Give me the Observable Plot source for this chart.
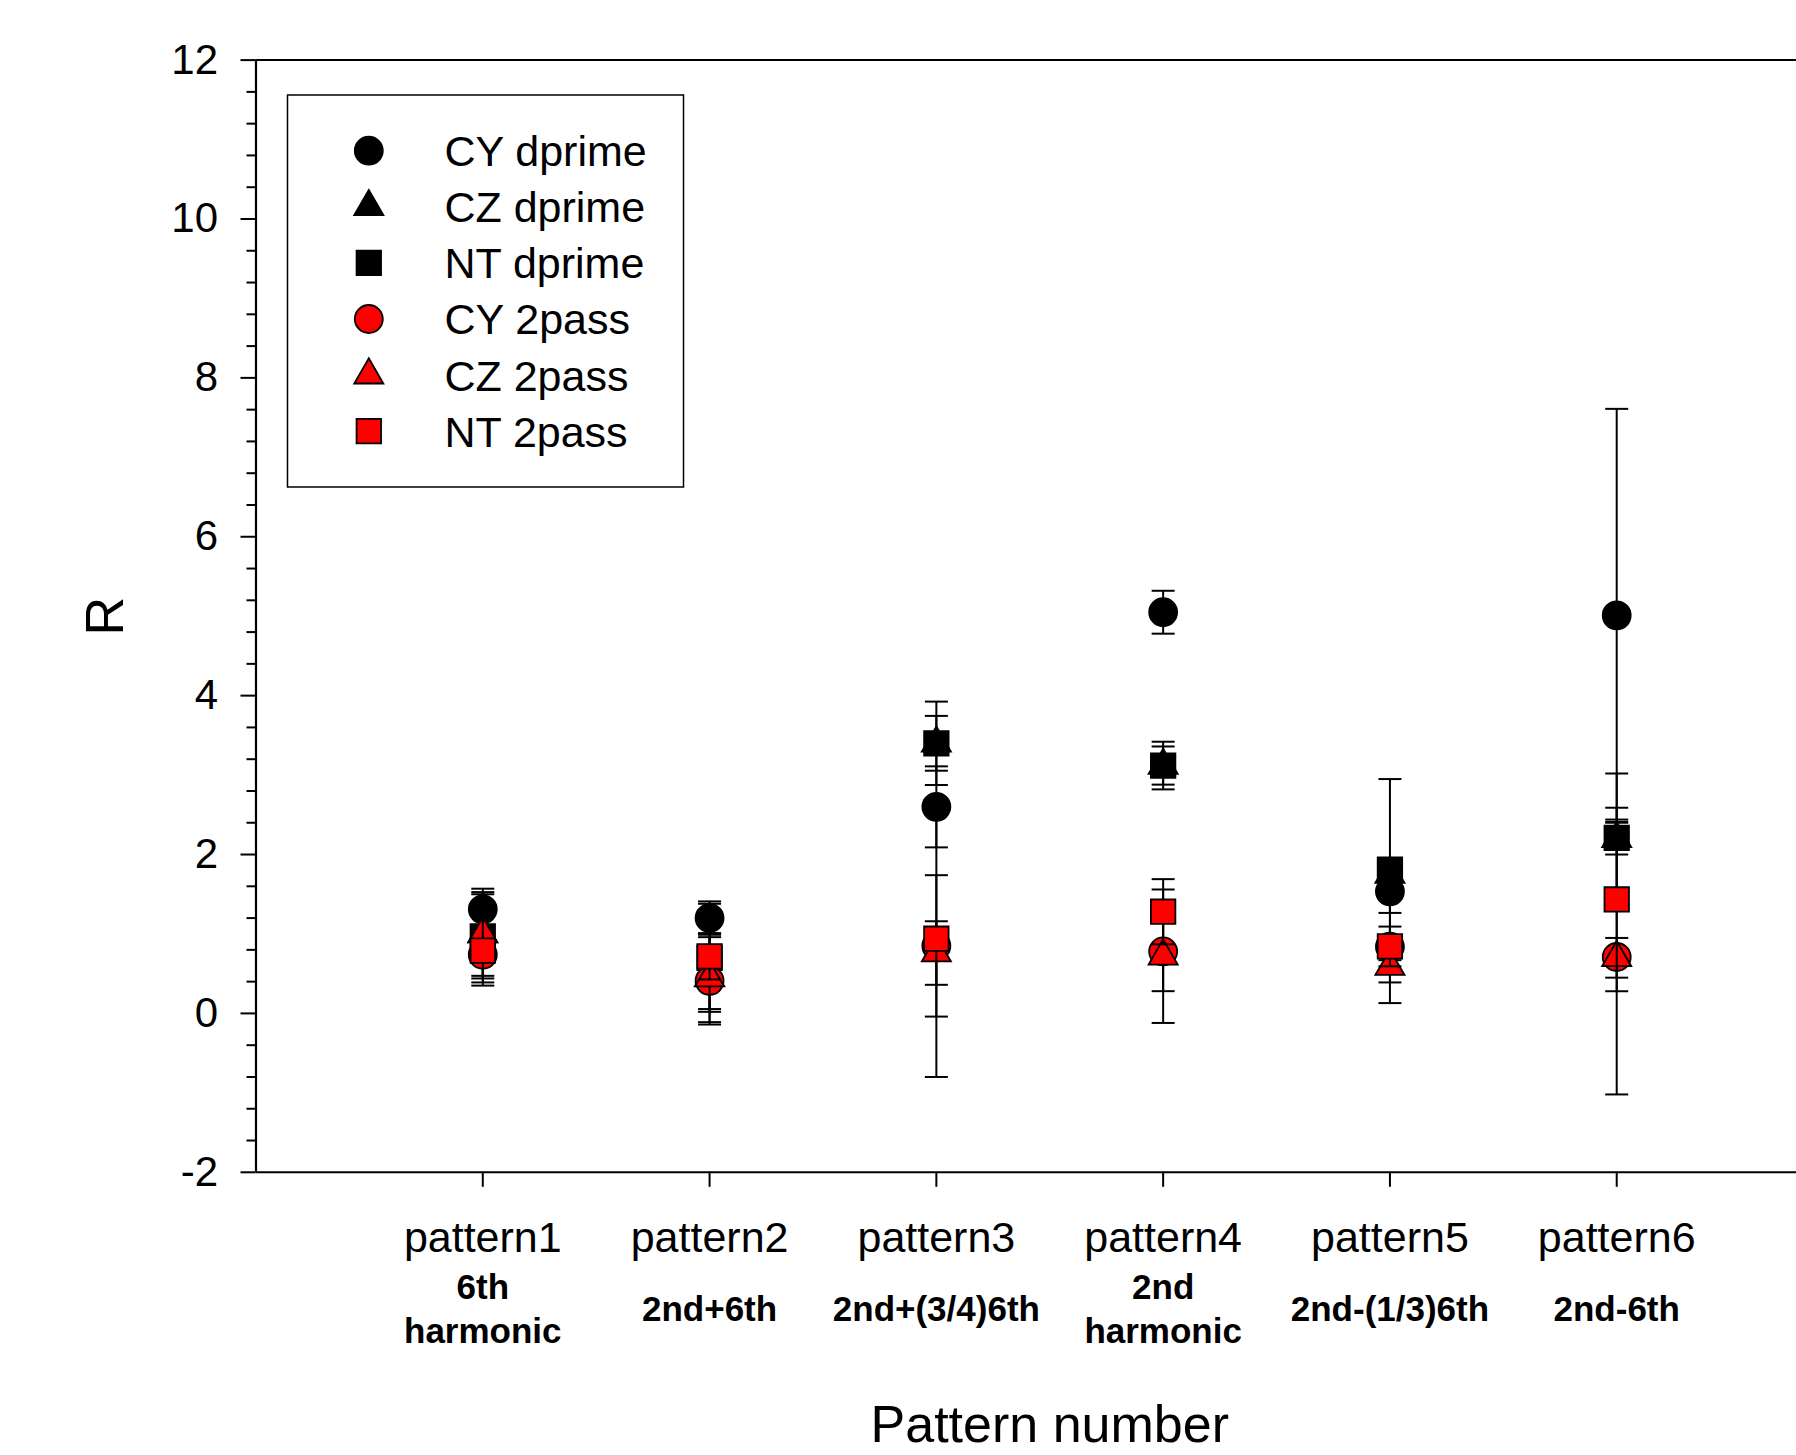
<!DOCTYPE html>
<html>
<head>
<meta charset="utf-8">
<script src="https://cdn.jsdelivr.net/npm/d3@7"></script>
<script src="https://cdn.jsdelivr.net/npm/@observablehq/plot@0.6"></script>
<style>
  html, body { margin: 0; padding: 0; background: #fff; overflow: hidden; }
  #wrap { position: relative; width: 1796px; height: 1455px; overflow: hidden; }
  #wrap svg { font-family: "Liberation Sans", Arial, sans-serif; max-width: none !important; }
</style>
</head>
<body>
<div id="wrap"></div>
<script>
// ---------- data ----------
const patternIndex = [1, 2, 3, 4, 5, 6];
const patternLabels = ["pattern1", "pattern2", "pattern3", "pattern4", "pattern5", "pattern6"];
const patternSubLabels = ["6th\nharmonic", "2nd+6th", "2nd+(3/4)6th", "2nd\nharmonic", "2nd-(1/3)6th", "2nd-6th"];

const seriesNames = ["CY dprime", "CZ dprime", "NT dprime", "CY 2pass", "CZ 2pass", "NT 2pass"];
const seriesSymbols = ["circle", "triangle", "square", "circle", "triangle", "square"];
const seriesFills = ["black", "black", "black", "#ff0000", "#ff0000", "#ff0000"];

const cyDprime    = [1.31, 1.20, 2.60, 5.05, 1.535, 5.01];
const cyDprimeErr = [0.26, 0.21, 0.51, 0.27, 0.27, 2.60];
const czDprime    = [1.00, 0.45, 3.40, 3.12, 1.75, 2.20];
const czDprimeErr = [0.527, 0.56, 0.345, 0.24, 0.05, 0.20];
const ntDprime    = [0.97, 0.70, 3.40, 3.12, 1.81, 2.21];
const ntDprimeErr = [0.53, 0.68, 0.525, 0.30, 1.14, 0.81];
const cy2pass     = [0.74, 0.41, 0.85, 0.78, 0.84, 0.71];
const cy2passErr  = [0.35, 0.55, 0.89, 0.50, 0.71, 1.73];
const cz2pass     = [1.00, 0.445, 0.76, 0.72, 0.59, 0.70];
const cz2passErr  = [0.10, 0.39, 0.40, 0.84, 0.20, 0.25];
const nt2pass     = [0.79, 0.717, 0.94, 1.28, 0.843, 1.434];
const nt2passErr  = [0.44, 0.29, 1.74, 0.41, 0.25, 1.155];

const yMajorTicks = [-2, 0, 2, 4, 6, 8, 10, 12];
const yMinorTicks = [-1.6, -1.2, -0.8, -0.4, 0.4, 0.8, 1.2, 1.6, 2.4, 2.8, 3.2, 3.6, 4.4, 4.8, 5.2, 5.6,
                     6.4, 6.8, 7.2, 7.6, 8.4, 8.8, 9.2, 9.6, 10.4, 10.8, 11.2, 11.6];

const seriesValues = [cyDprime, czDprime, ntDprime, cy2pass, cz2pass, nt2pass];
const seriesErrors = [cyDprimeErr, czDprimeErr, ntDprimeErr, cy2passErr, cz2passErr, nt2passErr];

// ---------- styling ----------
const FONT = "Liberation Sans, Arial, sans-serif";
const symbolR = {circle: 14, triangle: 10.8, square: 13.8};
const capSymbol = {
  draw(context, size) {
    const w = Math.sqrt(size / Math.PI);
    context.moveTo(-w, 0);
    context.lineTo(w, 0);
  }
};

const marks = [];
// frame lines
marks.push(Plot.ruleY([12], {stroke: "black", strokeWidth: 2}));
marks.push(Plot.ruleY([-2], {stroke: "black", strokeWidth: 2}));
marks.push(Plot.ruleX([0], {stroke: "black", strokeWidth: 2.2}));

// series: error bars then symbols, in series order
seriesNames.forEach((name, s) => {
  const rows = patternIndex.map((p, i) => ({p, v: seriesValues[s][i], e: seriesErrors[s][i]}));
  marks.push(Plot.ruleX(rows, {x: "p", y1: d => d.v - d.e, y2: d => d.v + d.e, stroke: "black", strokeWidth: 2}));
  marks.push(Plot.dot(rows, {x: "p", y: d => d.v + d.e, symbol: capSymbol, r: 11.5, fill: "none", stroke: "black", strokeWidth: 2}));
  marks.push(Plot.dot(rows, {x: "p", y: d => d.v - d.e, symbol: capSymbol, r: 11.5, fill: "none", stroke: "black", strokeWidth: 2}));
  marks.push(Plot.dot(rows, {x: "p", y: "v", symbol: seriesSymbols[s], r: symbolR[seriesSymbols[s]],
    fill: seriesFills[s], stroke: "black", strokeWidth: 1.8}));
});

// axes
marks.push(Plot.axisY({ticks: yMajorTicks, tickFormat: d => String(d), tickSize: 15, tickPadding: 23,
  fontSize: 42, label: null, strokeWidth: 2}));
marks.push(Plot.axisY({ticks: yMinorTicks, tickFormat: () => "", tickSize: 9, label: null, strokeWidth: 2}));
marks.push(Plot.axisX({ticks: patternIndex, tickFormat: d => patternLabels[d - 1], tickSize: 15, tickPadding: 34,
  fontSize: 43, label: null, strokeWidth: 2}));

// bold sub labels under x ticks
marks.push(Plot.text(patternIndex, {x: d => d, text: (d, i) => patternSubLabels[i], frameAnchor: "bottom",
  dy: 135, lineAnchor: "middle", fontSize: 35, fontWeight: "bold", lineHeight: 1.257, fill: "black"}));

// axis titles
marks.push(Plot.text(["Pattern number"], {text: d => d, frameAnchor: "bottom", dy: 253, lineAnchor: "middle",
  fontSize: 52, fill: "black"}));
marks.push(Plot.text(["R"], {text: d => d, frameAnchor: "left", rotate: -90, dx: -150, lineAnchor: "middle",
  textAnchor: "middle", fontSize: 54, fill: "black"}));

const chart = Plot.plot({
  width: 1843,
  height: 1455,
  marginLeft: 255.5,
  marginRight: 0,
  marginTop: 59.6,
  marginBottom: 283.2,
  x: {domain: [0, 7]},
  y: {domain: [-2, 12]},
  style: {fontFamily: FONT, background: "white", color: "black", overflow: "visible", maxWidth: "none"},
  marks
});
chart.style.maxWidth = "none";

const wrap = document.getElementById("wrap");
wrap.appendChild(chart);

// ---------- legend (boxed, inside plot area) ----------
const leg = d3.create("svg")
  .attr("width", 400).attr("height", 398)
  .style("position", "absolute").style("left", "286px").style("top", "93px")
  .style("font-family", FONT);
leg.append("rect").attr("x", 1.5).attr("y", 2).attr("width", 396).attr("height", 392)
  .attr("fill", "white").attr("stroke", "black").attr("stroke-width", 1.5);
const d3Sym = {circle: d3.symbolCircle, triangle: d3.symbolTriangle, square: d3.symbolSquare};
seriesNames.forEach((name, s) => {
  const cy = 57.7 + s * 56.1;
  const shape = seriesSymbols[s];
  const r = symbolR[shape];
  leg.append("path")
    .attr("d", d3.symbol(d3Sym[shape], Math.PI * r * r)())
    .attr("transform", `translate(82.8,${cy})`)
    .attr("fill", seriesFills[s]).attr("stroke", "black").attr("stroke-width", 1.8);
  leg.append("text").attr("x", 158.4).attr("y", cy + 15.4)
    .attr("font-size", 43).attr("fill", "black").text(name);
});
wrap.appendChild(leg.node());
</script>
</body>
</html>
